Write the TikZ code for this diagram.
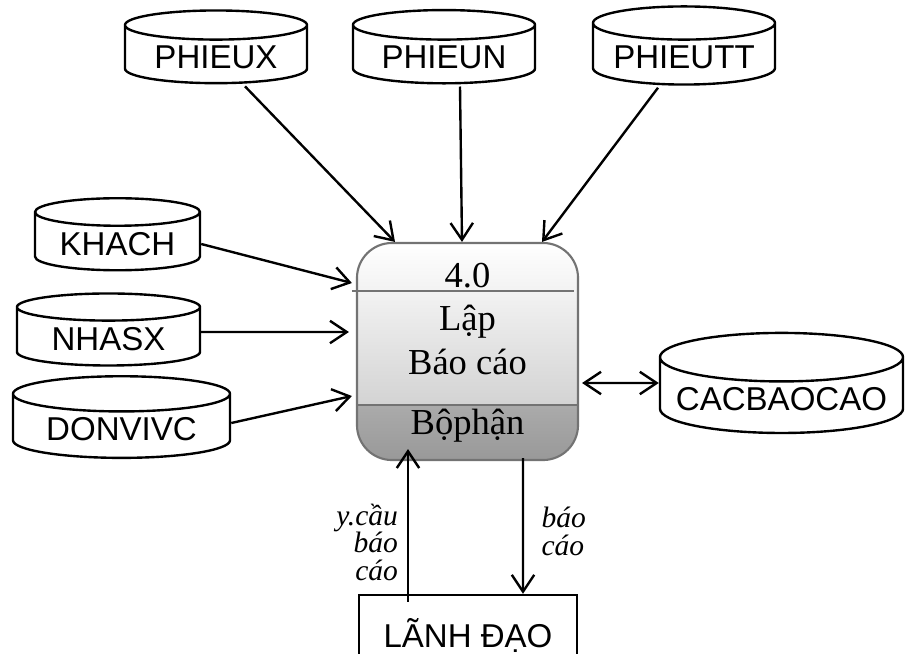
\documentclass[tikz,border=0pt]{standalone}
\usepackage{fontspec}
\setmainfont{Liberation Serif}
\setsansfont{Liberation Sans}
\usetikzlibrary{shapes.geometric,arrows.meta,calc}
\definecolor{procedge}{RGB}{115,115,115}
\tikzset{
    >={Straight Barb[length=4.2mm,width=5.6mm]},
    flow/.style={->, line width=1.7pt},
    store/.style={
        cylinder,
        shape border rotate=90,
        aspect=0.22,
        draw,
        line width=1.7pt,
        minimum height=1.8cm,
        font=\sffamily\fontsize{23.5}{27}\selectfont
    },
    procbox/.style={
        rectangle,
        rounded corners=0.875cm,
        draw=procedge,
        line width=1.5pt,
        minimum width=5.525cm,
        minimum height=5.425cm,
        path picture={
            \shade[sharp corners, top color=white, bottom color=gray!46]
                (path picture bounding box.north west) rectangle
                ($(path picture bounding box.south east)+(0,-56)$);
            \shade[sharp corners, top color=gray!66, bottom color=gray!80]
                ($(path picture bounding box.south west)+(0,-56)$) rectangle
                (path picture bounding box.south east);
        }
    },
    proctext/.style={anchor=base, font=\fontsize{26}{30}\selectfont},
    flowlabel/.style={font=\itshape\fontsize{21}{19.5}\selectfont}
}
\begin{document}
\begin{tikzpicture}[x=0.025cm, y=-0.025cm]
\useasboundingbox (0,0) rectangle (905,653);
\clip (0,0) rectangle (905,653);

% data stores
\node[store, minimum width=4.55cm] (phieux) at (216,57) {PHIEUX};
\node[store, minimum width=4.55cm] (phieun) at (444,57) {PHIEUN};
\node[store, minimum width=4.55cm] (phieutt) at (684,57) {PHIEUTT};
\node[store, minimum width=4.125cm] (khach) at (117.5,244) {KHACH};
\node[store, minimum width=4.575cm] (nhasx) at (108.5,339) {NHASX};
\node[store, minimum width=5.425cm] (donvivc) at (121.5,429) {DONVIVC};
\node[store, minimum width=6.075cm] (cacbaocao) at (781.5,399) {CACBAOCAO};

% process 4.0
\node[procbox] (proc) at (467.5,351.5) {};
\draw[procedge, line width=1.5pt]
    ($(proc.north west)+(-4,49)$) -- ($(proc.north east)+(-5,49)$);
\draw[procedge, line width=1.5pt]
    ($(proc.south west)+(0,-56)$) -- ($(proc.south east)+(0,-56)$);
\node[proctext] (num) at (467.5,287) {4.0};
\node[proctext] (lap) at (467.5,330) {Lập};
\node[proctext] (baocao) at (467.5,374) {Báo cáo};
\node[proctext] (bophan) at (467.5,434) {Bộphận};

% external entity
\node[draw, line width=1.7pt, minimum width=5.45cm, minimum height=2cm,
      font=\sffamily\fontsize{23.5}{27}\selectfont] (lanhdao) at (468,635) {LÃNH ĐẠO};

% flows
\draw[flow] ($(phieux.south)+(29,2)$) -- ($(proc.north)+(-72.5,0)$);
\draw[flow] ($(phieun.south)+(16,2)$) -- ($(proc.north)+(-5.5,0)$);
\draw[flow] ($(phieutt.south)+(-26,2)$) -- ($(proc.north)+(74.5,0)$);
\draw[flow] (khach.east) -- ($(proc.west)+(-4,-68.5)$);
\draw[flow] ($(nhasx.east)+(0,-7)$) -- ($(proc.west)+(-7,-19.5)$);
\draw[flow] ($(donvivc.east)+(0,-6)$) -- ($(proc.west)+(-4,44.5)$);
\draw[flow, <->] ($(proc.east)+(3,31.5)$) -- ($(cacbaocao.west)+(0,-16)$);

\draw[flow] ($(lanhdao.north)+(-60,8)$) -- ($(proc.south)+(-59.5,-12)$)
    node[pos=0.39, left, flowlabel, align=right, xshift=-3] {y.cầu\\báo\\cáo};
\draw[flow] ($(proc.south)+(55.5,-3)$) -- ($(lanhdao.north)+(55,0)$)
    node[pos=0.54, right, flowlabel, align=left, xshift=9] {báo\\cáo};

\end{tikzpicture}
\end{document}
